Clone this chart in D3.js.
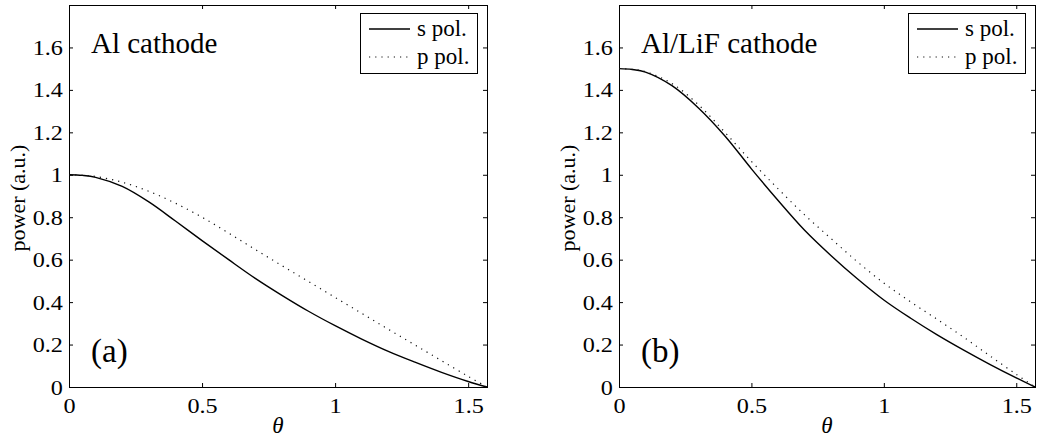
<!DOCTYPE html>
<html>
<head>
<meta charset="utf-8">
<script src="https://cdn.jsdelivr.net/npm/d3@7/dist/d3.min.js"></script>
<style>
  body { margin: 0; background: #fff; }
</style>
</head>
<body>
<div id="chart-area"></div>
<script>
var serif = '"Liberation Serif", "Times New Roman", Times, serif';

var theta = [0, 0.05, 0.1, 0.2, 0.3, 0.4, 0.5, 0.6, 0.7, 0.8, 0.9, 1.0, 1.1, 1.2, 1.3, 1.4, 1.5, 1.5708];

// (a) Al cathode
var alS = [1.0, 0.997, 0.988, 0.945, 0.872, 0.782, 0.69, 0.60, 0.512, 0.432, 0.357, 0.289, 0.226, 0.168, 0.117, 0.069, 0.026, 0];
var alP = [1.0, 0.998, 0.992, 0.965, 0.922, 0.866, 0.80, 0.725, 0.648, 0.572, 0.497, 0.422, 0.347, 0.272, 0.198, 0.124, 0.05, 0];

// (b) Al/LiF cathode
var lifS = [1.5, 1.496, 1.484, 1.42, 1.315, 1.183, 1.028, 0.88, 0.74, 0.62, 0.51, 0.41, 0.325, 0.247, 0.175, 0.107, 0.043, 0];
var lifP = [1.5, 1.497, 1.486, 1.43, 1.33, 1.2, 1.063, 0.935, 0.812, 0.70, 0.59, 0.49, 0.402, 0.32, 0.236, 0.147, 0.06, 0];

var xTicks = [0, 0.5, 1, 1.5];
var yTicks = [0, 0.2, 0.4, 0.6, 0.8, 1, 1.2, 1.4, 1.6];
var legendLabels = ["s pol.", "p pol."];
var panelTitles = ["Al cathode", "Al/LiF cathode"];
var panelTags = ["(a)", "(b)"];

var width = 1037, height = 441;
var plotTop = 5, plotBottom = 387;
var lefts = [69, 619], rights = [487, 1035];
var stretch = "scale(1.1,1)";   // the original glyphs are a bit wider than Times

var svg = d3.select("#chart-area").append("svg").attr("width", width).attr("height", height);

var seriesFor = [[alS, alP], [lifS, lifP]];

seriesFor.forEach((series, i) => {
  var w = rights[i] - lefts[i];
  var h = plotBottom - plotTop;
  var g = svg.append("g").attr("transform", "translate(" + lefts[i] + "," + plotTop + ")");

  var x = d3.scaleLinear().domain([0, Math.PI / 2]).range([0, w]);
  var y = d3.scaleLinear().domain([0, 1.8]).range([h, 0]);

  // frame
  g.append("rect").attr("x", 0.5).attr("y", 0.5).attr("width", w).attr("height", h)
    .attr("fill", "none").attr("stroke", "#000").attr("stroke-width", 1);

  // axes, ticks pointing inward
  var xAxis = g.append("g").attr("transform", "translate(0," + h + ")")
    .call(d3.axisBottom(x).tickValues(xTicks).tickSizeInner(-4).tickSizeOuter(0).tickPadding(10)
      .tickFormat(d3.format("")));
  xAxis.attr("font-family", serif);
  xAxis.selectAll("text").style("font-family", serif).attr("font-size", "22px").attr("dy", "0.71em")
    .attr("fill", "#000").attr("transform", stretch);

  var yAxis = g.append("g")
    .call(d3.axisLeft(y).tickValues(yTicks).tickSizeInner(-4).tickSizeOuter(0).tickPadding(5.5)
      .tickFormat(d3.format("")));
  yAxis.attr("font-family", serif);
  yAxis.selectAll("text").style("font-family", serif).attr("font-size", "22px")
    .attr("fill", "#000").attr("transform", stretch);

  g.append("g").call(d3.axisTop(x).tickValues(xTicks).tickSizeInner(-4).tickSizeOuter(0).tickFormat(""));
  g.append("g").attr("transform", "translate(" + w + ",0)")
    .call(d3.axisRight(y).tickValues(yTicks).tickSizeInner(-4).tickSizeOuter(0).tickFormat(""));

  g.selectAll(".domain").remove();
  g.selectAll(".tick line").attr("stroke", "#000");

  // curves
  var line = d3.line().x((d, k) => x(theta[k])).y((d) => y(d)).curve(d3.curveCatmullRom.alpha(0.5));

  g.append("path").datum(series[0]).attr("d", line)
    .attr("fill", "none").attr("stroke", "#000").attr("stroke-width", 1.4);
  g.append("path").datum(series[1]).attr("d", line)
    .attr("fill", "none").attr("stroke", "#111").attr("stroke-width", 1.2).attr("stroke-dasharray", "1.2,5");

  // labels inside the plot
  g.append("text").attr("x", 22).attr("y", 48).style("font-family", serif).attr("font-size", "29px").text(panelTitles[i]);
  g.append("text").attr("x", 22).attr("y", 357).style("font-family", serif).attr("font-size", "33px").text(panelTags[i]);

  // legend
  var lg = g.append("g").attr("transform", "translate(" + (w - 127) + ",8)");
  lg.append("rect").attr("x", 0.5).attr("y", 0.5).attr("width", 117).attr("height", 60)
    .attr("fill", "#fff").attr("stroke", "#000").attr("stroke-width", 1);
  lg.append("line").attr("x1", 9).attr("x2", 50).attr("y1", 16).attr("y2", 16)
    .attr("stroke", "#000").attr("stroke-width", 1.4);
  lg.append("line").attr("x1", 9).attr("x2", 50).attr("y1", 44).attr("y2", 44)
    .attr("stroke", "#111").attr("stroke-width", 1.2).attr("stroke-dasharray", "1.2,5");
  legendLabels.forEach((lab, k) => {
    lg.append("text").attr("x", 57).attr("y", 16 + 28 * k).attr("dy", "0.32em")
      .style("font-family", serif).attr("font-size", "23px").text(lab);
  });

  // axis titles
  g.append("text").attr("x", w / 2).attr("y", 433 - plotTop).attr("text-anchor", "middle")
    .style("font-family", serif).attr("font-size", "23px").attr("font-style", "italic").text("\u03b8");
  g.append("text").attr("transform", "translate(-44," + (198 - plotTop) + ") rotate(-90)")
    .attr("text-anchor", "middle").style("font-family", serif).attr("font-size", "22px").text("power (a.u.)");
});
</script>
</body>
</html>
